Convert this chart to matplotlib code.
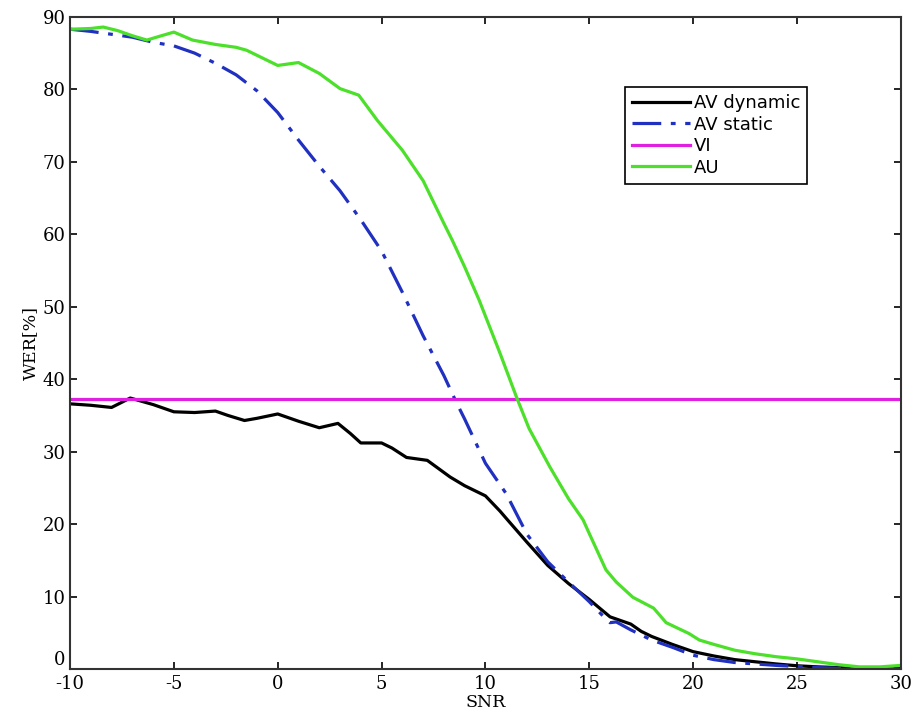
import matplotlib

matplotlib.use("Agg")
import matplotlib.pyplot as plt

plt.rcParams["axes.unicode_minus"] = False

# SNR grid points, per curve
snr_dynamic = [-10, -9, -8, -7.1, -6, -5, -4, -3, -2.4, -1.6, -1, 0, 1, 2, 2.9,
               3.5, 4, 5, 5.5, 6.2, 7.2, 8.3, 9, 10, 10.7, 11, 12, 13, 14, 15,
               16, 17, 17.5, 18, 19, 20, 21, 22, 23, 24, 25, 26, 27, 28, 29, 30]
wer_dynamic = [36.6, 36.4, 36.1, 37.4, 36.5, 35.5, 35.4, 35.6, 35.0, 34.3, 34.6,
               35.2, 34.2, 33.3, 33.9, 32.5, 31.2, 31.2, 30.5, 29.2, 28.8, 26.5,
               25.3, 23.9, 21.8, 20.8, 17.5, 14.3, 11.8, 9.6, 7.2, 6.2, 5.2, 4.5,
               3.4, 2.4, 1.8, 1.3, 1.0, 0.7, 0.45, 0.3, 0.2, 0.1, 0.1, 0.15]

snr_static = [-10, -9, -8, -7, -6, -5, -4, -3, -2, -1, 0, 1, 2, 3, 4, 5, 6, 7,
              8, 8.6, 9, 10, 11, 12, 13, 14, 15, 15.6, 16, 16.3, 17, 18, 19, 20,
              21, 22, 23, 24, 25, 26, 27, 28, 29, 30]
wer_static = [88.3, 88.0, 87.6, 87.2, 86.5, 86.0, 85.0, 83.6, 82.0, 79.8, 76.8,
              73.0, 69.4, 66.0, 62.0, 57.7, 52.0, 46.0, 40.5, 36.8, 34.5, 28.4,
              24.2, 18.6, 14.8, 12.0, 9.3, 7.5, 6.4, 6.5, 5.4, 4.0, 3.0, 1.9,
              1.3, 0.9, 0.7, 0.5, 0.35, 0.2, 0.1, 0.1, 0.1, 0.1]

wer_visual = 37.2

snr_audio = [-10, -9, -8.4, -7.7, -7, -6.3, -5.6, -5, -4.1, -3, -2, -1.5, -0.5,
             0, 1, 2, 3, 3.9, 4.8, 6, 7, 8, 8.4, 9, 9.7, 10.7, 11.5, 12.1, 13.1,
             14, 14.7, 15, 15.8, 16.3, 17.1, 18.1, 18.7, 19.8, 20.3, 21, 22, 23,
             24, 25, 26, 27, 28, 29, 30]
wer_audio = [88.3, 88.4, 88.6, 88.1, 87.4, 86.8, 87.4, 87.9, 86.8, 86.2, 85.8,
             85.4, 84.0, 83.3, 83.7, 82.2, 80.1, 79.2, 75.7, 71.6, 67.4, 61.5,
             59.2, 55.5, 50.9, 43.6, 37.5, 33.2, 27.9, 23.5, 20.6, 18.7, 13.7,
             12.0, 9.9, 8.4, 6.4, 4.9, 4.0, 3.4, 2.6, 2.1, 1.7, 1.4, 1.0, 0.6,
             0.3, 0.3, 0.5]

x_ticks = [-10, -5, 0, 5, 10, 15, 20, 25, 30]
y_ticks = [0, 10, 20, 30, 40, 50, 60, 70, 80, 90]

fig = plt.figure(figsize=(9.14, 7.19), dpi=100)
ax = fig.add_axes([0.0766, 0.0695, 0.909, 0.907])

lw = 2.3
ax.plot(snr_dynamic, wer_dynamic, color="black", lw=lw, label="AV dynamic")
ax.plot(snr_static, wer_static, color="#2030c0", lw=lw, label="AV static",
        dashes=(9, 3, 1.5, 3))
ax.axhline(wer_visual, color="#e020e0", lw=lw, label="VI")
ax.plot(snr_audio, wer_audio, color="#4ce02a", lw=lw, label="AU")

ax.set_xlim(-10, 30)
ax.set_ylim(0, 90)
ax.set_xticks(x_ticks)
ax.set_yticks(y_ticks)
ax.tick_params(direction="in", top=True, right=True, length=5, width=1.2,
               labelsize=13)
ax.tick_params(axis="x", pad=4)
ax.tick_params(axis="y", pad=3)
for lab in ax.get_xticklabels() + ax.get_yticklabels():
    lab.set_family("DejaVu Serif")
# the "0" sits just above the corner, clear of "-10"
ax.get_yticklabels()[0].set_verticalalignment("bottom")
for sp in ax.spines.values():
    sp.set_linewidth(1.5)
    sp.set_color("#333333")

ax.set_xlabel("SNR", family="DejaVu Serif", fontsize=12.5, labelpad=1)
ax.set_ylabel("WER[%]", family="DejaVu Serif", fontsize=12.5, labelpad=3)

leg = ax.legend(loc="upper left", bbox_to_anchor=(0.668, 0.893), fontsize=13,
                handlelength=3.2, handletextpad=0.2, labelspacing=0.2,
                borderpad=0.4, borderaxespad=0, fancybox=False, framealpha=1)
leg.get_frame().set_edgecolor("black")
leg.get_frame().set_linewidth(1.2)

fig.savefig("out.png", dpi=100)
